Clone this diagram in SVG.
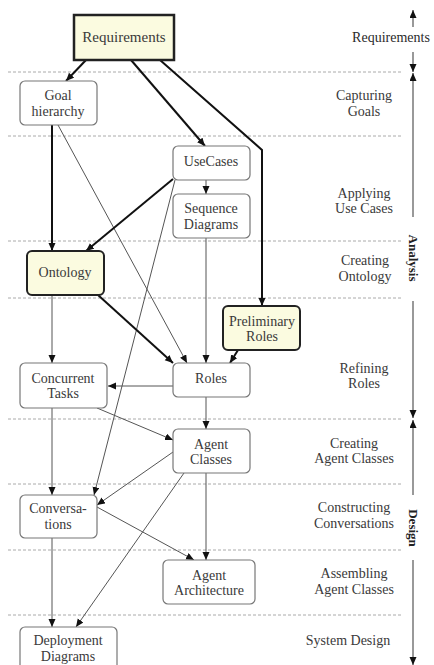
<svg xmlns="http://www.w3.org/2000/svg" width="434" height="665" viewBox="0 0 434 665">
<defs>
<marker id="ah" markerUnits="userSpaceOnUse" markerWidth="9" markerHeight="8" refX="8" refY="3.5" orient="auto">
<path d="M0,0 L8,3.5 L0,7 z" fill="#111"/>
</marker>
<style>
text{font-family:"Liberation Serif","Times New Roman",serif;font-size:14px;fill:#3a3a3a;text-anchor:middle}
.sep{stroke:#aaa;stroke-width:1;stroke-dasharray:3,2;fill:none}
.box{fill:#fff;stroke:#777;stroke-width:1.2}
.hl{fill:#fbfbe0;stroke:#222;stroke-width:2}
.thin{stroke:#555;stroke-width:1;fill:none;marker-end:url(#ah)}
.thick{stroke:#111;stroke-width:2;fill:none;marker-end:url(#ah)}
.phase{stroke:#777;stroke-width:1.5;fill:none}
.ph{font-weight:bold;font-size:13px;fill:#222}
</style>
</defs>
<rect width="434" height="665" fill="#fff"/>
<g id="separators">
<line class="sep" x1="8" y1="72" x2="402" y2="72"/>
<line class="sep" x1="8" y1="136" x2="402" y2="136"/>
<line class="sep" x1="8" y1="241" x2="402" y2="241"/>
<line class="sep" x1="8" y1="298" x2="402" y2="298"/>
<line class="sep" x1="8" y1="419" x2="402" y2="419"/>
<line class="sep" x1="8" y1="484" x2="402" y2="484"/>
<line class="sep" x1="8" y1="550" x2="402" y2="550"/>
<line class="sep" x1="8" y1="615" x2="402" y2="615"/>
</g>
<g id="phase-labels">
<text x="364" y="100">Capturing</text><text x="364" y="116">Goals</text>
<text x="364" y="198">Applying</text><text x="364" y="213">Use Cases</text>
<text x="365" y="265">Creating</text><text x="365" y="281">Ontology</text>
<text x="364" y="373">Refining</text><text x="364" y="388">Roles</text>
<text x="354" y="448">Creating</text><text x="354" y="463">Agent Classes</text>
<text x="354" y="512">Constructing</text><text x="354" y="528">Conversations</text>
<text x="354" y="578">Assembling</text><text x="354" y="594">Agent Classes</text>
<text x="348" y="645">System Design</text>
<text x="391" y="42" style="fill:#2a2a2a">Requirements</text>
</g>
<g id="phase-bars">
<line class="phase" x1="413" y1="27" x2="413" y2="10" marker-end="url(#ah)"/>
<line class="phase" x1="413" y1="52" x2="413" y2="72" marker-end="url(#ah)"/>
<line class="phase" x1="413" y1="217" x2="413" y2="73" marker-end="url(#ah)"/>
<text class="ph" transform="translate(413,258) rotate(90)" y="4.5">Analysis</text>
<line class="phase" x1="413" y1="301" x2="413" y2="418" marker-end="url(#ah)"/>
<line class="phase" x1="413" y1="495" x2="413" y2="420" marker-end="url(#ah)"/>
<text class="ph" transform="translate(413,528) rotate(90)" y="4.5">Design</text>
<line class="phase" x1="413" y1="560" x2="413" y2="665" marker-end="url(#ah)"/>
</g>
<g id="connectors">
<line class="thick" x1="86" y1="60" x2="66" y2="81"/>
<line class="thick" x1="131" y1="60" x2="205" y2="146"/>
<polyline class="thick" points="160,60 262,150 262,306"/>
<line class="thick" x1="52" y1="125" x2="52" y2="251"/>
<line class="thin" x1="58" y1="125" x2="187" y2="363"/>
<line class="thin" x1="206" y1="180" x2="206" y2="194"/>
<line class="thick" x1="173" y1="179" x2="86" y2="251"/>
<line class="thin" x1="175" y1="180" x2="94" y2="495"/>
<line class="thin" x1="206" y1="238" x2="206" y2="363"/>
<line class="thin" x1="52" y1="295" x2="52" y2="363"/>
<line class="thick" x1="98" y1="295" x2="173" y2="363"/>
<line class="thick" x1="238" y1="350" x2="230" y2="363"/>
<line class="thin" x1="173" y1="386" x2="108" y2="386"/>
<line class="thin" x1="206" y1="397" x2="206" y2="429"/>
<line class="thin" x1="97" y1="408" x2="173" y2="440"/>
<line class="thin" x1="52" y1="408" x2="52" y2="495"/>
<line class="thin" x1="173" y1="452" x2="97" y2="505"/>
<line class="thin" x1="184" y1="473" x2="76" y2="627"/>
<line class="thin" x1="206" y1="473" x2="206" y2="560"/>
<line class="thin" x1="97" y1="507" x2="194" y2="560"/>
<line class="thin" x1="52" y1="538" x2="52" y2="627"/>
</g>
<g id="requirements">
<rect class="hl" x="74" y="15" width="100" height="45" style="stroke-width:2.5"/>
<text x="124" y="42" style="font-size:15px">Requirements</text>
</g>
<g id="goal-hierarchy">
<rect class="box" x="20" y="81" width="77" height="44" rx="5"/>
<text x="58" y="100">Goal</text><text x="58" y="116">hierarchy</text>
</g>
<g id="usecases">
<rect class="box" x="173" y="146" width="77" height="34" rx="5"/>
<text x="211" y="166">UseCases</text>
</g>
<g id="sequence-diagrams">
<rect class="box" x="173" y="194" width="77" height="44" rx="5"/>
<text x="211" y="213">Sequence</text><text x="211" y="229">Diagrams</text>
</g>
<g id="ontology">
<rect class="hl" x="27" y="251" width="77" height="44" rx="5"/>
<text x="65" y="277">Ontology</text>
</g>
<g id="preliminary-roles">
<rect class="hl" x="223" y="306" width="77" height="44" rx="5"/>
<text x="262" y="326">Preliminary</text><text x="262" y="341">Roles</text>
</g>
<g id="roles">
<rect class="box" x="173" y="363" width="77" height="34" rx="5"/>
<text x="211" y="383">Roles</text>
</g>
<g id="concurrent-tasks">
<rect class="box" x="20" y="363" width="87" height="45" rx="5"/>
<text x="63" y="383">Concurrent</text><text x="63" y="398">Tasks</text>
</g>
<g id="agent-classes">
<rect class="box" x="173" y="429" width="77" height="44" rx="5"/>
<text x="211" y="449">Agent</text><text x="211" y="464">Classes</text>
</g>
<g id="conversations">
<rect class="box" x="20" y="495" width="77" height="43" rx="5"/>
<text x="58" y="513">Conversa-</text><text x="58" y="529">tions</text>
</g>
<g id="agent-architecture">
<rect class="box" x="163" y="560" width="92" height="44" rx="5"/>
<text x="209" y="580">Agent</text><text x="209" y="595">Architecture</text>
</g>
<g id="deployment-diagrams">
<rect class="box" x="20" y="627" width="97" height="48" rx="5"/>
<text x="68" y="645">Deployment</text><text x="68" y="661">Diagrams</text>
</g>
</svg>
